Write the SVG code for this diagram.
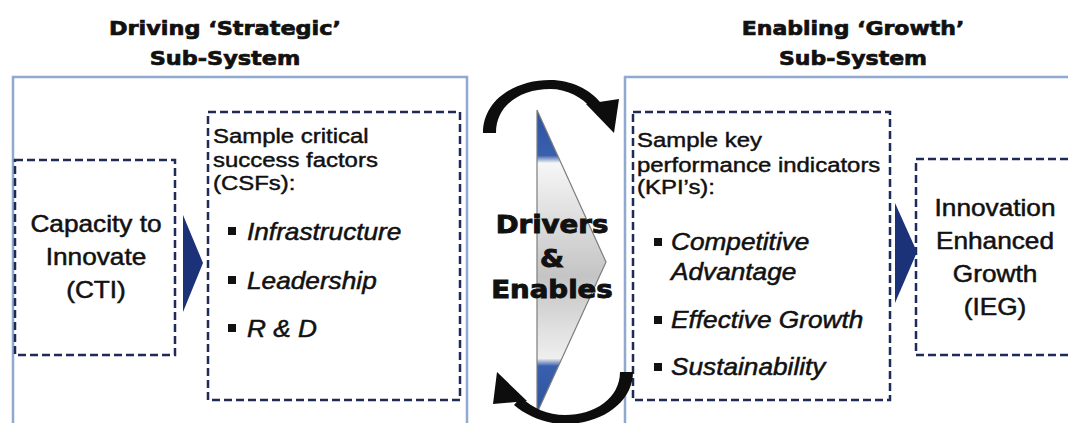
<svg xmlns="http://www.w3.org/2000/svg" width="1068" height="423" viewBox="0 0 1068 423">
  <defs>
    <linearGradient id="hubFill" x1="0" y1="110" x2="0" y2="413" gradientUnits="userSpaceOnUse">
      <stop offset="0" stop-color="#2c52a0"/>
      <stop offset="0.15" stop-color="#3a60ad"/>
      <stop offset="0.175" stop-color="#f6f6f6"/>
      <stop offset="0.55" stop-color="#c4c4c4"/>
      <stop offset="0.82" stop-color="#efefef"/>
      <stop offset="0.845" stop-color="#3a60ad"/>
      <stop offset="1" stop-color="#2c52a0"/>
    </linearGradient>
  </defs>
  <style>
    .frame { fill: none; stroke: #8fa9cf; stroke-width: 2.5; }
    .dash { fill: none; stroke: #1e2b58; stroke-width: 2.5; stroke-dasharray: 8 4; }
    .title { font-family: "DejaVu Sans", "Liberation Sans", sans-serif; font-weight: bold; font-size: 20px; fill: #111; stroke: #111; stroke-width: 0.7; text-anchor: middle; }
    .big { font-family: "Liberation Sans", Arial, sans-serif; font-size: 23px; fill: #111; stroke: #111; stroke-width: 0.5; text-anchor: middle; }
    .head { font-family: "Liberation Sans", Arial, sans-serif; font-size: 21px; fill: #111; stroke: #111; stroke-width: 0.45; }
    .item { font-family: "Liberation Sans", Arial, sans-serif; font-size: 23px; font-style: italic; fill: #111; stroke: #111; stroke-width: 0.5; }
    .hub { font-family: "DejaVu Sans", "Liberation Sans", sans-serif; font-weight: bold; font-size: 24px; fill: #111; stroke: #111; stroke-width: 0.9; text-anchor: middle; }
    .bullet { fill: #111; }
    .flow { fill: #1b3178; }
    .cycle { fill: #0d0d0d; }
  </style>

  <rect width="1068" height="423" fill="#ffffff"/>

  <!-- sub-system headings -->
  <g id="title-strategic">
    <g transform="translate(225 0) scale(1.12 1)">
      <text class="title" x="0" y="35">Driving &#8216;Strategic&#8217;</text>
      <text class="title" x="0" y="65">Sub-System</text>
    </g>
  </g>
  <g id="title-growth">
    <g transform="translate(853 0) scale(1.1 1)">
      <text class="title" x="0" y="35">Enabling &#8216;Growth&#8217;</text>
      <text class="title" x="0" y="65">Sub-System</text>
    </g>
  </g>

  <!-- sub-system frames -->
  <g id="strategic-subsystem">
    <rect class="frame" x="13" y="77" width="454" height="370"/>
  </g>
  <g id="growth-subsystem">
    <rect class="frame" x="625" y="77" width="470" height="370"/>
  </g>

  <!-- Capacity to Innovate -->
  <g id="cti">
    <rect class="dash" x="15" y="160" width="160" height="195"/>
    <g transform="translate(96 0) scale(1.14 1)">
      <text class="big" x="0" y="232">Capacity to</text>
      <text class="big" x="0" y="265">Innovate</text>
      <text class="big" x="0" y="298">(CTI)</text>
    </g>
  </g>

  <!-- critical success factors -->
  <g id="csfs">
    <rect class="dash" x="208" y="112" width="252" height="288"/>
    <g transform="translate(213 0) scale(1.14 1)">
      <text class="head" x="0" y="143">Sample critical</text>
      <text class="head" x="0" y="167">success factors</text>
      <text class="head" x="0" y="190">(CSFs):</text>
    </g>
    <rect class="bullet" x="228" y="227" width="8" height="8"/>
    <rect class="bullet" x="228" y="276" width="8" height="8"/>
    <rect class="bullet" x="228" y="324" width="8" height="8"/>
    <g transform="translate(247 0) scale(1.14 1)">
      <text class="item" x="0" y="240">Infrastructure</text>
      <text class="item" x="0" y="289">Leadership</text>
      <text class="item" x="0" y="337">R &amp; D</text>
    </g>
  </g>

  <!-- central hub -->
  <g id="drivers-enables">
    <polygon points="537,110 606,262 537,413" fill="url(#hubFill)" stroke="#7d7d7d" stroke-width="1.2"/>
    <g transform="translate(552 0) scale(1.15 1)">
      <text class="hub" x="0" y="233">Drivers</text>
      <text class="hub" x="0" y="267">&amp;</text>
      <text class="hub" x="0" y="298">Enables</text>
    </g>
  </g>

  <!-- key performance indicators -->
  <g id="kpis">
    <rect class="dash" x="633" y="112" width="257" height="288"/>
    <g transform="translate(637 0) scale(1.14 1)">
      <text class="head" x="0" y="147">Sample key</text>
      <text class="head" x="0" y="172">performance indicators</text>
      <text class="head" x="0" y="194">(KPI&#8217;s):</text>
    </g>
    <rect class="bullet" x="654" y="238" width="8" height="8"/>
    <rect class="bullet" x="654" y="316" width="8" height="8"/>
    <rect class="bullet" x="654" y="363" width="8" height="8"/>
    <g transform="translate(671 0) scale(1.14 1)">
      <text class="item" x="0" y="250">Competitive</text>
      <text class="item" x="0" y="280">Advantage</text>
      <text class="item" x="0" y="328">Effective Growth</text>
      <text class="item" x="0" y="375">Sustainability</text>
    </g>
  </g>

  <!-- Innovation Enhanced Growth -->
  <g id="ieg">
    <rect class="dash" x="916" y="159" width="170" height="196"/>
    <g transform="translate(995 0) scale(1.14 1)">
      <text class="big" x="0" y="216">Innovation</text>
      <text class="big" x="0" y="249">Enhanced</text>
      <text class="big" x="0" y="282">Growth</text>
      <text class="big" x="0" y="315">(IEG)</text>
    </g>
  </g>

  <!-- connectors -->
  <g id="connectors">
    <polygon class="flow" points="183,215 203,263 183,312"/>
    <polygon class="flow" points="895,203 917,252 895,303"/>
    <!-- upper cycle arrow -->
    <path class="cycle" d="M 483 133 C 483 100, 515 80, 550 80 C 572 80, 590 90, 600 102 L 592 109 C 582 97, 567 89, 550 89 C 522 89, 496 104, 496 133 Z"/>
    <polygon class="cycle" points="586,104 619,99 614,133"/>
    <!-- lower cycle arrow -->
    <path class="cycle" d="M 620 372 L 633 372 C 633 402, 602 424, 565 424 C 545 424, 527 416, 514 405 L 521 397 C 532 408, 548 415, 565 415 C 595 415, 620 398, 620 372 Z"/>
    <polygon class="cycle" points="497,372 493,404 527,401"/>
  </g>
</svg>
